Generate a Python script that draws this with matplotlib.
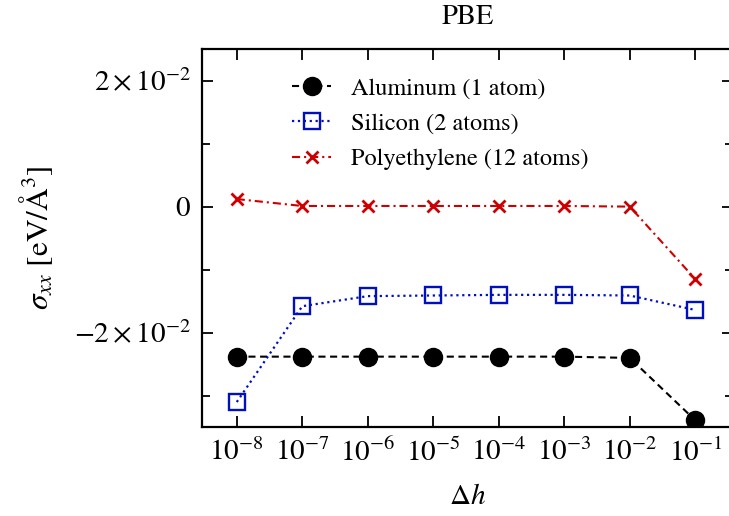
import numpy as np
import matplotlib
matplotlib.use("Agg")
import matplotlib.pyplot as plt
from matplotlib.ticker import FixedLocator, NullLocator

plt.rcParams['font.family'] = ['STIXGeneral', 'DejaVu Serif']
plt.rcParams['mathtext.fontset'] = 'stix'

# finite-difference step sizes
dh = [1e-8, 1e-7, 1e-6, 1e-5, 1e-4, 1e-3, 1e-2, 1e-1]
dh_labels = [r'$10^{-8}$', r'$10^{-7}$', r'$10^{-6}$', r'$10^{-5}$',
             r'$10^{-4}$', r'$10^{-3}$', r'$10^{-2}$', r'$10^{-1}$']

# sigma_xx in eV/A^3
al = [-0.0238, -0.0238, -0.0238, -0.0238, -0.0238, -0.0238, -0.0240, -0.0339]
si = [-0.0310, -0.0158, -0.0142, -0.0141, -0.0140, -0.0140, -0.0141, -0.0164]
pe = [0.0012, 0.0001, 0.0001, 0.0001, 0.0001, 0.0001, 0.0000, -0.0115]

y_major = [-0.02, 0.0, 0.02]
y_major_labels = [r'$-2\times10^{-2}$', r'$0$', r'$2\times10^{-2}$']
y_minor = [-0.03, -0.01, 0.01]

fig = plt.figure(figsize=(7.29, 5.16), dpi=100)
ax = fig.add_axes([0.2775, 0.172, 1.005 - 0.2775, 0.905 - 0.172])

ax.plot(dh, al, ls='--', dashes=(3.4, 2.2), color='black', lw=1.5,
        marker='o', ms=13, label='Aluminum (1 atom)')
ax.plot(dh, si, ls=':', color='#0010C0', lw=1.6, marker='s', ms=11,
        mfc='none', mew=1.7, label='Silicon (2 atoms)')
ax.plot(dh, pe, ls='-.', dashes=(3.9, 1.9, 1, 1.9), color='#CC0000', lw=1.5,
        marker='x', ms=9, mew=2, label='Polyethylene (12 atoms)')

ax.set_xscale('log')
ax.set_xlim(10**-8.526, 10**-0.43)
ax.set_ylim(-0.035, 0.025)

ax.xaxis.set_major_locator(FixedLocator(dh))
ax.set_xticklabels(dh_labels)
ax.xaxis.set_minor_locator(NullLocator())
ax.yaxis.set_major_locator(FixedLocator(y_major))
ax.set_yticklabels(y_major_labels)
ax.yaxis.set_minor_locator(FixedLocator(y_minor))

ax.tick_params(which='both', direction='in', top=True, right=True,
               width=1.3, labelsize=21)
ax.tick_params(which='major', length=8, pad=8)
ax.tick_params(which='minor', length=5.5)
for s in ax.spines.values():
    s.set_linewidth(1.6)

ax.set_xlabel(r'$\Delta h$', fontsize=21, labelpad=13)
ax.set_ylabel(r'$\sigma_{xx}\ [\mathrm{eV}/\mathrm{\AA}^{3}]$', fontsize=22.5, labelpad=14)
ax.set_title('PBE', fontsize=20.5, pad=18)

ax.legend(loc='upper left', bbox_to_anchor=(0.17, 0.925), frameon=False,
          fontsize=17.5, handlelength=1.6, handletextpad=0.8,
          labelspacing=0.55, borderaxespad=0, borderpad=0)

fig.savefig('out.png', dpi=100)
